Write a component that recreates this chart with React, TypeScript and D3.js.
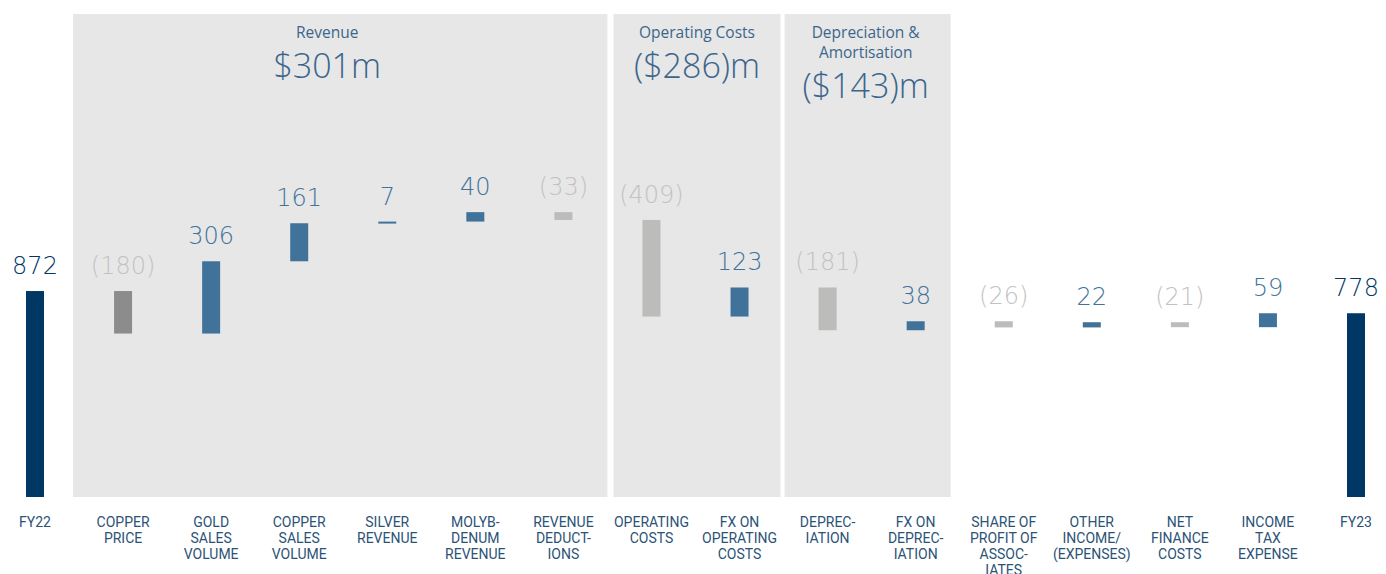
import React from "react";
import * as d3 from "d3";

const categories = [
  "FY22", "COPPER\nPRICE", "GOLD\nSALES\nVOLUME", "COPPER\nSALES\nVOLUME", "SILVER\nREVENUE",
  "MOLYB-\nDENUM\nREVENUE", "REVENUE\nDEDUCT-\nIONS", "OPERATING\nCOSTS", "FX ON\nOPERATING\nCOSTS",
  "DEPREC-\nIATION", "FX ON\nDEPREC-\nIATION", "SHARE OF\nPROFIT OF\nASSOC-\nIATES", "OTHER\nINCOME/\n(EXPENSES)",
  "NET\nFINANCE\nCOSTS", "INCOME\nTAX\nEXPENSE", "FY23",
];
const values = [872, -180, 306, 161, 7, 40, -33, -409, 123, -181, 38, -26, 22, -21, 59, 778];
const kinds = ["total", "neg-dark", "pos", "pos", "pos", "pos", "neg", "neg", "pos", "neg", "pos", "neg", "pos", "neg", "pos", "total"];

const groupTitles = [["Revenue"], ["Operating Costs"], ["Depreciation &", "Amortisation"]];
const groupTotals = ["$301m", "($286)m", "($143)m"];
const groupStart = [1, 7, 9];
const groupEnd = [6, 8, 10];

const W = 1386, H = 574;
const colors: Record<string, string> = {
  total: "#003764", pos: "#41739a", neg: "#bcbcbb", "neg-dark": "#8c8c8c",
};
const labelColors: Record<string, string> = {
  total: "#003764", pos: "#41739a", neg: "#c2c2c2", "neg-dark": "#c2c2c2",
};

export default function App() {
  const idx = categories.map((_, i) => i);
  const x = d3.scalePoint<number>().domain(idx).range([35, 1356]);
  const y = d3.scaleLinear().domain([0, 1000]).range([497, 497 - 236.2]);
  const bw = 18;

  let running = 0;
  const bars = values.map((v, i) => {
    let a: number, b: number;
    if (kinds[i] === "total") { a = 0; b = v; running = v; }
    else { a = running; b = running + v; running = b; }
    return { lo: Math.min(a, b), hi: Math.max(a, b), v, kind: kinds[i], i };
  });

  const fmt = (v: number) => (v < 0 ? `(${Math.abs(v)})` : `${v}`);

  const panelLeftOff = [-50, -38, -43];
  const panelRightOff = [44, 41, 35];
  const titleOff = [-13, 0, -2];

  return (
    <svg width={W} height={H} style={{ position: "absolute", left: 0, top: 0, display: "block" }}>
      <rect x={0} y={0} width={W} height={H} fill="#ffffff" />
      {groupStart.map((s, g) => {
        const x0 = (x(s) as number) + panelLeftOff[g];
        const x1 = (x(groupEnd[g]) as number) + panelRightOff[g];
        const cx = (x0 + x1) / 2 + titleOff[g];
        const nT = groupTitles[g].length;
        return (
          <g key={g}>
            <rect x={x0} y={14} width={x1 - x0} height={y(0) - 14} fill="#e7e7e7" />
            {groupTitles[g].map((t, k) => (
              <text key={k} x={cx} y={38 + k * 20} textAnchor="middle" fontFamily="'Open Sans', sans-serif"
                fontSize={15.5} fill="#3b668c">{t}</text>
            ))}
            <text x={cx} y={78 + (nT - 1) * 20} textAnchor="middle" fontFamily="'Open Sans', sans-serif"
              fontWeight={300} fontSize={34} fill="#3b668c">{groupTotals[g]}</text>
          </g>
        );
      })}
      {bars.map((b) => {
        const cx = x(b.i) as number;
        const top = y(b.hi);
        const h = Math.max(y(b.lo) - y(b.hi), 2);
        return (
          <g key={b.i}>
            <rect x={cx - bw / 2} y={top} width={bw} height={h} fill={colors[b.kind]} />
            <text x={cx} y={top - 17} textAnchor="middle" fontFamily="'DejaVu Sans', sans-serif"
              fontWeight={200} fontSize={24} fill={labelColors[b.kind]}>{fmt(b.v)}</text>
          </g>
        );
      })}
      {categories.map((c, i) => (
        <text key={i} x={x(i) as number} y={527} textAnchor="middle"
          fontFamily="'Roboto', sans-serif"
          fontSize={14} fill="#2b5377">
          {c.split("\n").map((ln, k) => (
            <tspan key={k} x={x(i) as number} dy={k === 0 ? 0 : 16}>{ln}</tspan>
          ))}
        </text>
      ))}
    </svg>
  );
}
